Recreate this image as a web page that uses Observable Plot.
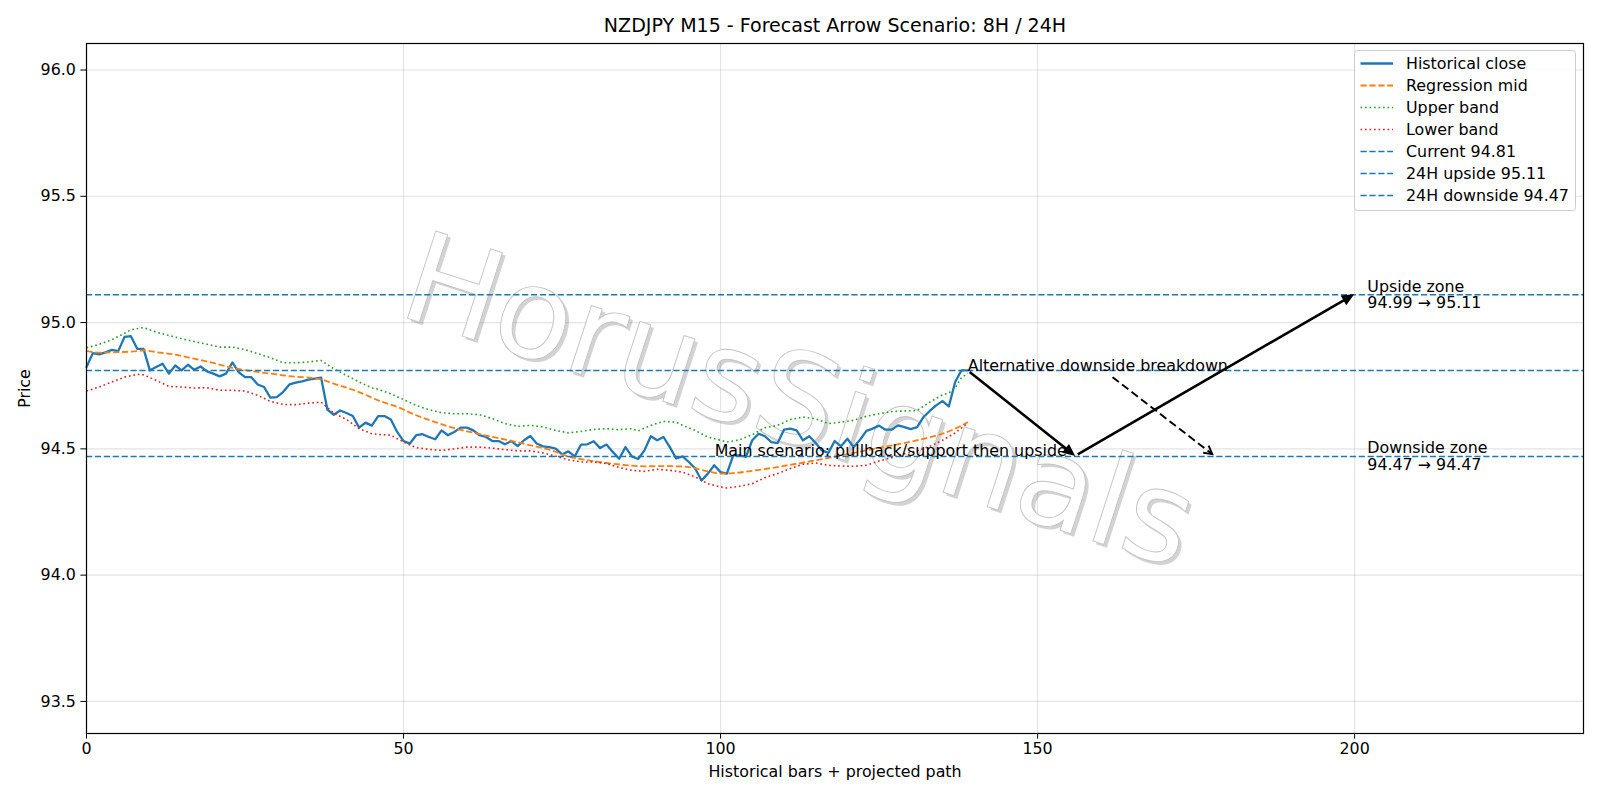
<!DOCTYPE html>
<html>
<head>
<meta charset="utf-8">
<script src="https://cdn.jsdelivr.net/npm/d3@7"></script>
<script src="https://cdn.jsdelivr.net/npm/@observablehq/plot@0.6"></script>
<style>
  body { margin: 0; background: #fff; font-family: "DejaVu Sans", sans-serif; }
  #wrap { position: relative; width: 1600px; height: 800px; overflow: hidden; }
  #wrap > svg { position: absolute; left: 0; top: 0; }
  .overlay { pointer-events: none; }
</style>
</head>
<body>
<div id="wrap"></div>
<script>
// ---- NZDJPY M15 closes (one per bar) ----
const closeValues = [
  94.824, 94.879, 94.874, 94.882, 94.892, 94.887, 94.943, 94.946, 94.896, 94.896,
  94.811, 94.824, 94.837, 94.798, 94.830, 94.811, 94.833, 94.813, 94.826, 94.807,
  94.798, 94.787, 94.798, 94.842, 94.804, 94.784, 94.784, 94.755, 94.745, 94.703,
  94.705, 94.725, 94.755, 94.762, 94.767, 94.774, 94.778, 94.782, 94.655, 94.635,
  94.652, 94.642, 94.630, 94.584, 94.604, 94.592, 94.630, 94.630, 94.616, 94.567,
  94.531, 94.521, 94.554, 94.558, 94.547, 94.538, 94.573, 94.554, 94.567, 94.584,
  94.584, 94.573, 94.554, 94.547, 94.531, 94.531, 94.518, 94.531, 94.511, 94.534,
  94.551, 94.521, 94.510, 94.507, 94.501, 94.478, 94.490, 94.470, 94.517, 94.518,
  94.530, 94.503, 94.517, 94.488, 94.461, 94.507, 94.470, 94.460, 94.494, 94.550,
  94.534, 94.547, 94.507, 94.462, 94.470, 94.448, 94.422, 94.375, 94.402, 94.435,
  94.408, 94.402, 94.474, 94.474, 94.468, 94.534, 94.560, 94.550, 94.527, 94.523,
  94.576, 94.580, 94.573, 94.534, 94.550, 94.523, 94.494, 94.484, 94.531, 94.510,
  94.540, 94.507, 94.536, 94.571, 94.580, 94.592, 94.576, 94.576, 94.593, 94.586,
  94.578, 94.586, 94.626, 94.650, 94.672, 94.689, 94.668, 94.765, 94.811, 94.811
];

// ---- Regression channel (bar index, price) ----
const midBars = [0, 2, 5, 8, 9, 11, 14, 17, 20, 23, 26, 29, 32, 35, 37, 39, 42, 45, 46, 49, 52, 55, 58, 61, 64, 67, 70, 73, 76, 79, 82, 85, 88, 91, 93, 95, 98, 100, 102, 105, 108, 111, 114, 117, 120, 123, 126, 129, 132, 135, 137, 139];
const midValues = [94.887, 94.881, 94.883, 94.887, 94.890, 94.883, 94.873, 94.857, 94.840, 94.821, 94.808, 94.798, 94.788, 94.782, 94.775, 94.758, 94.734, 94.703, 94.692, 94.666, 94.633, 94.606, 94.582, 94.564, 94.547, 94.532, 94.514, 94.497, 94.470, 94.455, 94.444, 94.436, 94.431, 94.432, 94.431, 94.428, 94.411, 94.402, 94.404, 94.413, 94.424, 94.437, 94.450, 94.464, 94.479, 94.494, 94.509, 94.523, 94.540, 94.560, 94.580, 94.606];

const upperBars = [0, 2, 4, 6, 7, 9, 11, 13, 15, 17, 19, 21, 23, 25, 27, 29, 31, 33, 35, 37, 39, 41, 43, 45, 46, 48, 50, 52, 54, 56, 58, 60, 62, 64, 66, 68, 70, 72, 74, 76, 78, 80, 82, 84, 86, 87, 89, 91, 93, 94, 96, 98, 100, 101, 103, 105, 107, 109, 111, 113, 115, 117, 119, 121, 123, 125, 127, 129, 131, 133, 135, 136, 137, 138, 139];
const upperValues = [94.900, 94.914, 94.932, 94.958, 94.972, 94.980, 94.962, 94.949, 94.936, 94.925, 94.914, 94.903, 94.903, 94.893, 94.877, 94.861, 94.841, 94.841, 94.844, 94.850, 94.817, 94.791, 94.765, 94.741, 94.736, 94.718, 94.695, 94.672, 94.655, 94.643, 94.639, 94.639, 94.635, 94.620, 94.600, 94.589, 94.593, 94.587, 94.573, 94.563, 94.569, 94.577, 94.580, 94.576, 94.580, 94.571, 94.593, 94.609, 94.606, 94.593, 94.573, 94.547, 94.534, 94.527, 94.536, 94.556, 94.584, 94.593, 94.616, 94.626, 94.619, 94.600, 94.606, 94.613, 94.629, 94.639, 94.648, 94.650, 94.652, 94.685, 94.714, 94.721, 94.742, 94.782, 94.800];

const lowerBars = [0, 2, 4, 6, 8, 9, 11, 13, 15, 17, 19, 21, 23, 25, 27, 29, 31, 33, 35, 37, 39, 41, 43, 45, 46, 48, 50, 52, 54, 56, 58, 60, 62, 64, 66, 68, 70, 72, 74, 76, 78, 80, 82, 84, 86, 88, 90, 92, 94, 96, 98, 100, 101, 103, 105, 107, 109, 111, 113, 115, 117, 119, 121, 123, 125, 127, 129, 131, 133, 135, 137, 139];
const lowerValues = [94.729, 94.745, 94.765, 94.784, 94.795, 94.793, 94.771, 94.747, 94.745, 94.741, 94.742, 94.732, 94.732, 94.729, 94.712, 94.688, 94.676, 94.675, 94.681, 94.685, 94.642, 94.616, 94.580, 94.560, 94.557, 94.554, 94.527, 94.505, 94.498, 94.494, 94.500, 94.507, 94.507, 94.503, 94.497, 94.492, 94.492, 94.484, 94.471, 94.457, 94.448, 94.448, 94.442, 94.426, 94.415, 94.411, 94.419, 94.415, 94.408, 94.389, 94.362, 94.349, 94.345, 94.352, 94.362, 94.386, 94.402, 94.422, 94.439, 94.444, 94.435, 94.432, 94.431, 94.435, 94.452, 94.465, 94.481, 94.492, 94.510, 94.534, 94.563, 94.602];

// ---- Reference levels ----
const levelNames = ["Current", "24H upside", "24H downside"];
const levelValues = [94.81, 95.11, 94.47];

// ---- Projected path arrows (from bar/price to bar/price) ----
const pathFromBar = [139, 156];
const pathFromPrice = [94.81, 94.47];
const pathToBar = [156, 200];
const pathToPrice = [94.47, 95.11];
const altFromBar = [161.9];
const altFromPrice = [94.782];
const altToBar = [178];
const altToPrice = [94.47];

// ---- Annotations ----
const altLabel = {text: "Alternative downside breakdown", bar: 139, price: 94.81};
const mainLabel = {text: "Main scenario: pullback/support then upside", bar: 154.6, price: 94.47};
const zoneLabels = ["Upside zone\n94.99 → 95.11", "Downside zone\n94.47 → 94.47"];
const zoneBars = [202, 202];
const zonePrices = [95.11, 94.47];

// ---- Axes ----
const xTicks = [0, 50, 100, 150, 200];
const yTicks = [93.5, 94.0, 94.5, 95.0, 95.5, 96.0];
const xDomain = [0, 236.1];
const yDomain = [93.373, 96.105];
const titleText = "NZDJPY M15 - Forecast Arrow Scenario: 8H / 24H";
const xLabel = "Historical bars + projected path";
const yLabel = "Price";
const watermarkText = "HorusSignals";

const seriesLabels = ["Historical close", "Regression mid", "Upper band", "Lower band"];

// ---- Tables built from the arrays above ----
const closeData = closeValues.map((price, bar) => ({bar, price}));
const midData = midBars.map((bar, k) => ({bar, price: midValues[k]}));
const upperData = upperBars.map((bar, k) => ({bar, price: upperValues[k]}));
const lowerData = lowerBars.map((bar, k) => ({bar, price: lowerValues[k]}));
const pathData = pathFromBar.map((b, k) => ({x1: b, y1: pathFromPrice[k], x2: pathToBar[k], y2: pathToPrice[k]}));
const altData = altFromBar.map((b, k) => ({x1: b, y1: altFromPrice[k], x2: altToBar[k], y2: altToPrice[k]}));
const zoneData = zoneLabels.map((text, k) => ({text, bar: zoneBars[k], price: zonePrices[k]}));

const BLUE = "#1f77b4", ORANGE = "#ff7f0e", GREEN = "#2ca02c", RED = "#d62728";
const FONT = "'DejaVu Sans', 'Liberation Sans', sans-serif";
const FS = 15.87;          // 10pt at this figure's resolution
const TITLE_FS = 19.05;    // 12pt
const DASH = "6.2,2.7";
const DOT = "1.7,2.8";

// Watermark: white lettering with a soft offset shadow, drawn under the data.
function watermark(index, scales, values, dimensions) {
  const cx = dimensions.width / 2, cy = dimensions.height / 2;
  const g = d3.create("svg:g").attr("font-family", FONT).attr("pointer-events", "none");
  const angle = 18, size = 126;
  g.append("text")
    .attr("transform", `translate(${cx + 3.2},${cy + 3.2}) rotate(${angle})`)
    .attr("text-anchor", "middle").attr("dominant-baseline", "central")
    .attr("font-size", size).attr("fill", "#808080").attr("fill-opacity", 0.35)
    .text(watermarkText);
  g.append("text")
    .attr("transform", `translate(${cx},${cy}) rotate(${angle})`)
    .attr("text-anchor", "middle").attr("dominant-baseline", "central")
    .attr("font-size", size).attr("fill", "#ffffff")
    .attr("stroke", "#c4c4c4").attr("stroke-width", 0.9)
    .text(watermarkText);
  return g.node();
}

// Arrow mark positioned through the plot's x/y scales.
// filled: closed triangular head ("-|>"); otherwise an open head ("->").
function arrowMark(rows, {width = 2.6, dash = null, filled = true, headLength = 9, headHalfWidth = 4, inset = 3, insetStart = inset}) {
  return (index, scales) => {
    const g = d3.create("svg:g").attr("fill", "none").attr("stroke", "#000");
    for (const r of rows) {
      let x1 = scales.x(r.x1), y1 = scales.y(r.y1), x2 = scales.x(r.x2), y2 = scales.y(r.y2);
      const len = Math.hypot(x2 - x1, y2 - y1), ux = (x2 - x1) / len, uy = (y2 - y1) / len;
      x1 += ux * insetStart; y1 += uy * insetStart;
      x2 -= ux * inset; y2 -= uy * inset;
      const bx = x2 - ux * headLength, by = y2 - uy * headLength;
      const px = -uy * headHalfWidth, py = ux * headHalfWidth;
      const shaft = g.append("line").attr("x1", x1).attr("y1", y1)
        .attr("x2", filled ? bx : x2).attr("y2", filled ? by : y2)
        .attr("stroke-width", width);
      if (dash) shaft.attr("stroke-dasharray", dash);
      if (filled) {
        g.append("path").attr("d", `M${x2},${y2}L${bx + px},${by + py}L${bx - px},${by - py}Z`)
          .attr("fill", "#000").attr("stroke-width", width).attr("stroke-linejoin", "miter");
      } else {
        g.append("path").attr("d", `M${bx + px},${by + py}L${x2},${y2}L${bx - px},${by - py}`)
          .attr("stroke-width", width).attr("stroke-linejoin", "miter");
      }
    }
    return g.node();
  };
}

const chart = Plot.plot({
  width: 1600,
  height: 800,
  marginLeft: 86,
  marginRight: 17,
  marginTop: 43,
  marginBottom: 67,
  style: {fontFamily: FONT, fontSize: `${FS}px`, color: "#000", background: "#fff", overflow: "visible"},
  x: {domain: xDomain},
  y: {domain: yDomain},
  marks: [
    Plot.gridX(xTicks, {stroke: "#b0b0b0", strokeOpacity: 0.35, strokeWidth: 1.1}),
    Plot.gridY(yTicks, {stroke: "#b0b0b0", strokeOpacity: 0.35, strokeWidth: 1.1}),
    watermark,
    Plot.line(closeData, {x: "bar", y: "price", stroke: BLUE, strokeWidth: 2.3}),
    Plot.line(midData, {x: "bar", y: "price", stroke: ORANGE, strokeWidth: 1.8, strokeDasharray: DASH, strokeLinecap: "butt", curve: "monotone-x"}),
    Plot.line(upperData, {x: "bar", y: "price", stroke: GREEN, strokeWidth: 1.6, strokeDasharray: DOT, strokeLinecap: "butt"}),
    Plot.line(lowerData, {x: "bar", y: "price", stroke: RED, strokeWidth: 1.6, strokeDasharray: DOT, strokeLinecap: "butt"}),
    Plot.ruleY(levelValues, {stroke: BLUE, strokeWidth: 1.6, strokeDasharray: DASH}),
    arrowMark(pathData, {width: 2.6, filled: true, headLength: 8, headHalfWidth: 3.6, inset: 3}),
    arrowMark(altData, {width: 1.9, dash: "8,4", filled: false, headLength: 8, headHalfWidth: 4.5, inset: 3, insetStart: 0}),
    Plot.text([altLabel], {x: "bar", y: "price", text: "text", textAnchor: "start", lineAnchor: "bottom", fontSize: FS}),
    Plot.text([mainLabel], {x: "bar", y: "price", text: "text", textAnchor: "end", lineAnchor: "bottom", fontSize: FS}),
    Plot.text(zoneData, {x: "bar", y: "price", text: "text", textAnchor: "start", lineAnchor: "middle", lineHeight: 1.05, fontSize: FS}),
    Plot.axisX({ticks: xTicks, tickSize: 5.6, tickPadding: 4, fontSize: FS, label: xLabel, labelAnchor: "center", labelOffset: 43, labelArrow: "none"}),
    Plot.axisY({ticks: yTicks, tickSize: 5.6, tickPadding: 5, fontSize: FS, tickFormat: d => d.toFixed(1), label: yLabel, labelAnchor: "center", labelOffset: 68, labelArrow: "none"}),
    Plot.frame({stroke: "#000", strokeWidth: 1.2}),
    Plot.text([titleText], {frameAnchor: "top", dy: -17.5, lineAnchor: "middle", fontSize: TITLE_FS})
  ]
});

const wrap = document.getElementById("wrap");
wrap.appendChild(chart);

// ---- Legend (upper right, inside the frame) ----
const legendItems = [
  {label: seriesLabels[0], color: BLUE, dash: null, width: 2.3},
  {label: seriesLabels[1], color: ORANGE, dash: DASH, width: 1.8},
  {label: seriesLabels[2], color: GREEN, dash: DOT, width: 1.6},
  {label: seriesLabels[3], color: RED, dash: DOT, width: 1.6},
  ...levelNames.map((n, k) => ({label: `${n} ${levelValues[k].toFixed(2)}`, color: BLUE, dash: DASH, width: 1.6}))
];
const leg = d3.select(wrap).append("svg")
  .attr("class", "overlay")
  .attr("width", 1600).attr("height", 800)
  .style("font-family", FONT).style("font-size", `${FS}px`);
const lg = leg.append("g").attr("transform", "translate(1354.5,50.5)");
lg.append("rect").attr("width", 221).attr("height", 160).attr("rx", 3)
  .attr("fill", "#fff").attr("fill-opacity", 0.8).attr("stroke", "#cccccc").attr("stroke-width", 1);
legendItems.forEach((it, k) => {
  const cy = 13 + k * 22.0;
  const ln = lg.append("line").attr("x1", 6).attr("x2", 38.5).attr("y1", cy).attr("y2", cy)
    .attr("stroke", it.color).attr("stroke-width", it.width).attr("stroke-linecap", "butt");
  if (it.dash) ln.attr("stroke-dasharray", it.dash);
  lg.append("text").attr("x", 51.5).attr("y", cy).attr("dy", "0.36em").attr("fill", "#000").text(it.label);
});
</script>
</body>
</html>
